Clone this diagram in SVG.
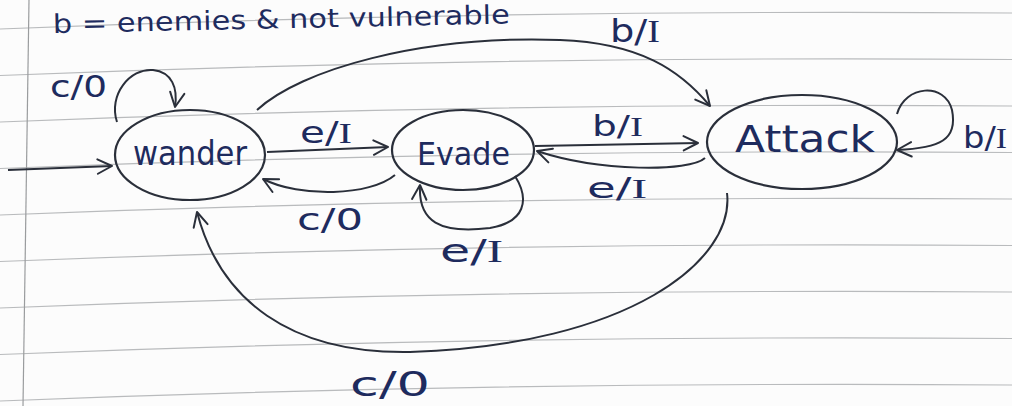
<svg xmlns="http://www.w3.org/2000/svg" width="1012" height="406" viewBox="0 0 1012 406">
  <defs>
    <style>
      .paper { fill: none; stroke: #b9bbbd; stroke-width: 1.2; }
      .margin { fill: none; stroke: #9a9c9e; stroke-width: 1.2; }
      .state { fill: none; stroke: #2a2f3a; stroke-width: 2.2; }
      .edge { fill: none; stroke: #2a2f3a; stroke-width: 2; marker-end: url(#arrow); }
      .lbl { font-family: "DejaVu Sans", "Liberation Sans", sans-serif; fill: #1e2b5e; }
      .node { font-family: "DejaVu Sans", "Liberation Sans", sans-serif; fill: #1e2b5e; }
      .ser { font-family: "Liberation Serif", serif; }
    </style>
    <marker id="arrow" viewBox="0 0 20 20" refX="18" refY="10" markerWidth="18" markerHeight="18" markerUnits="userSpaceOnUse" orient="auto">
      <path d="M2,2 L18,10 L2,18" fill="none" stroke="#2a2f3a" stroke-width="2.2" stroke-linecap="round" stroke-linejoin="round"/>
    </marker>
  </defs>

  <rect x="0" y="0" width="1012" height="406" fill="#fcfcfc"/>

  <g id="paper">
    <path class="paper" d="M0,29 Q506,9 1012,13"/>
    <path class="paper" d="M0,75.5 Q506,55.5 1012,59.5"/>
    <path class="paper" d="M0,122 Q506,102 1012,106"/>
    <path class="paper" d="M0,168.5 Q506,148.5 1012,152.5"/>
    <path class="paper" d="M0,215 Q506,195 1012,199"/>
    <path class="paper" d="M0,261.5 Q506,241.5 1012,245.5"/>
    <path class="paper" d="M0,308 Q506,288 1012,292"/>
    <path class="paper" d="M0,354.5 Q506,334.5 1012,338.5"/>
    <path class="paper" d="M0,401 Q506,381 1012,385"/>
    <path class="margin" d="M29,0 L23,406"/>
  </g>

  <text class="lbl" x="53" y="33" font-size="26" textLength="457" lengthAdjust="spacingAndGlyphs" transform="rotate(-1.2 53 33)">b = enemies &amp; not vulnerable</text>

  <g id="connectors">
    <path class="edge" d="M8,170 L112,166"/>
    <path class="edge" d="M117,122 C108,95 130,68 153,70 C172,72 178,88 175,107"/>
    <path class="edge" d="M257,110 C300,70 420,35 560,40 C640,43 680,70 710,106"/>
    <path class="edge" d="M267,152 L388,147"/>
    <path class="edge" d="M395,175 C370,196 300,198 263,179"/>
    <path class="edge" d="M515,176 C530,200 525,222 490,228 C440,234 418,222 420,185"/>
    <path class="edge" d="M535,146 L698,143"/>
    <path class="edge" d="M705,158 C690,172 600,172 537,151"/>
    <path class="edge" d="M897,114 C905,85 945,82 952,110 C958,140 940,148 897,150"/>
    <path class="edge" d="M727,193 C735,260 630,345 410,352 C290,354 220,300 197,212"/>
  </g>

  <g id="labels">
    <text class="lbl" x="50" y="97" font-size="30" textLength="57" lengthAdjust="spacingAndGlyphs">c/0</text>
    <text class="lbl" x="610" y="42" font-size="32" textLength="50" lengthAdjust="spacingAndGlyphs">b/<tspan class="ser">I</tspan></text>
    <text class="lbl" x="300" y="143" font-size="30" textLength="52" lengthAdjust="spacingAndGlyphs">e/<tspan class="ser">I</tspan></text>
    <text class="lbl" x="297" y="230" font-size="30" textLength="66" lengthAdjust="spacingAndGlyphs">c/0</text>
    <text class="lbl" x="440" y="262" font-size="32" textLength="63" lengthAdjust="spacingAndGlyphs">e/<tspan class="ser">I</tspan></text>
    <text class="lbl" x="592" y="136" font-size="28" textLength="51" lengthAdjust="spacingAndGlyphs">b/<tspan class="ser">I</tspan></text>
    <text class="lbl" x="587" y="198" font-size="28" textLength="60" lengthAdjust="spacingAndGlyphs">e/<tspan class="ser">I</tspan></text>
    <text class="lbl" x="963" y="148" font-size="30" textLength="44" lengthAdjust="spacingAndGlyphs">b/<tspan class="ser">I</tspan></text>
    <text class="lbl" x="350" y="396" font-size="34" textLength="80" lengthAdjust="spacingAndGlyphs">c/0</text>
  </g>

  <g id="wander">
    <ellipse class="state" cx="190" cy="155" rx="75" ry="45"/>
    <text class="node" x="133" y="165" font-size="34" textLength="114" lengthAdjust="spacingAndGlyphs">wander</text>
  </g>
  <g id="evade">
    <ellipse class="state" cx="463" cy="150" rx="71" ry="40"/>
    <text class="node" x="417" y="165" font-size="32" textLength="93" lengthAdjust="spacingAndGlyphs">Evade</text>
  </g>
  <g id="attack">
    <ellipse class="state" cx="802" cy="142" rx="95" ry="47"/>
    <text class="node" x="735" y="152" font-size="38" textLength="140" lengthAdjust="spacingAndGlyphs">Attack</text>
  </g>
</svg>
